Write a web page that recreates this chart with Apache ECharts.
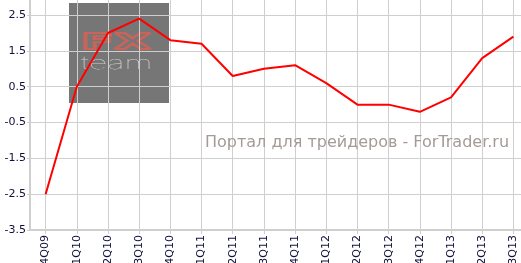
<!DOCTYPE html>
<html><head><meta charset="utf-8">
<script src="https://cdn.jsdelivr.net/npm/echarts@6/dist/echarts.min.js"></script>
<style>html,body{margin:0;padding:0;background:#fff}#c{width:521px;height:263px}</style>
</head><body><div id="c"></div>
<script>
const categories = ['4Q09','1Q10','2Q10','3Q10','4Q10','1Q11','2Q11','3Q11','4Q11','1Q12','2Q12','3Q12','4Q12','1Q13','2Q13','3Q13'];
const values = [-2.5, 0.5, 2.0, 2.4, 1.8, 1.7, 0.8, 1.0, 1.1, 0.6, 0.0, 0.0, -0.2, 0.2, 1.3, 1.9];
const watermarkText = 'Портал для трейдеров - ForTrader.ru';
const logoTop = 'FX';
const logoBottom = 'team';

const chart = echarts.init(document.getElementById('c'), null, {renderer: 'canvas'});
const labelColor = '#10103a';
chart.setOption({
  animation: false,
  grid: {left: 30, right: -8, top: -10, bottom: 33, containLabel: false, outerBoundsMode: 'none'},
  xAxis: {
    type: 'category', data: categories, boundaryGap: true,
    axisLine: {show: true, onZero: false, lineStyle: {color: '#cfcfcf', width: 2}},
    axisTick: {show: true, alignWithLabel: true, length: 4, lineStyle: {color: '#cfcfcf'}},
    splitLine: {show: true, alignWithLabel: true, lineStyle: {color: '#cfcfcf', width: 1}},
    axisLabel: {rotate: 90, margin: 5, fontSize: 11, fontFamily: 'DejaVu Sans', color: labelColor, interval: 0}
  },
  yAxis: {
    type: 'value', min: -3.5, max: 3.2, interval: 1,
    axisLine: {show: true, lineStyle: {color: '#cfcfcf', width: 2}},
    axisTick: {show: true, length: 3, lineStyle: {color: '#cfcfcf'}},
    splitLine: {show: true, lineStyle: {color: '#cfcfcf', width: 1}},
    axisLabel: {showMaxLabel: false, margin: 4, fontSize: 11, fontFamily: 'DejaVu Sans', color: labelColor}
  },
  graphic: [
    {type: 'rect', z: -10, shape: {x: 69, y: 3, width: 100, height: 100}, style: {fill: '#767676'}},
    {type: 'text', z: -9, x: 81, y: 32, scaleX: 2.2, style: {text: logoTop, font: 'bold 22px "DejaVu Sans"', letterSpacing: 2, fill: 'rgba(0,0,0,0)', stroke: '#c8645a', lineWidth: 1.8}},
    {type: 'text', z: -9, x: 81, y: 55, scaleX: 1.8, style: {text: logoBottom, font: '100 18px Inter', fill: '#d0d0d0'}},
    {type: 'text', z: 5, x: 205, y: 135, style: {text: watermarkText, font: '16px "DejaVu Sans"', fill: '#a59a96'}}
  ],
  series: [{
    type: 'line', data: values, symbol: 'none', z: 3,
    lineStyle: {color: '#ff0000', width: 2}
  }]
});
</script></body></html>
